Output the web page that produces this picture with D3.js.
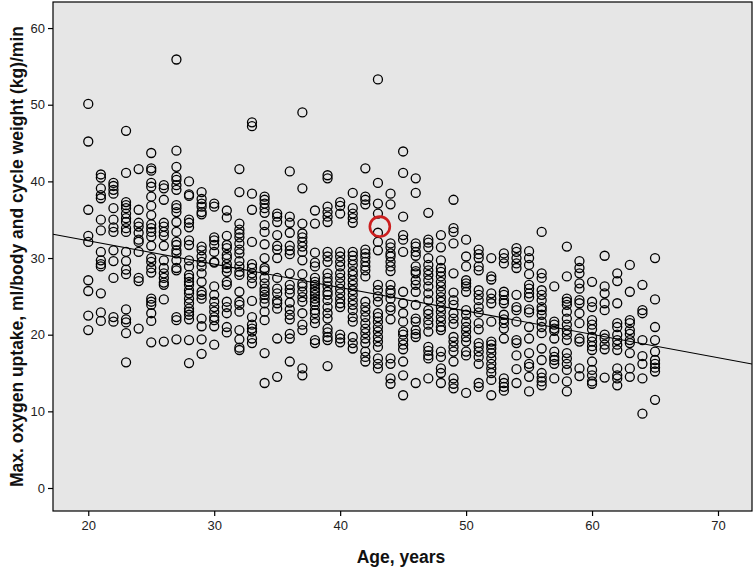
<!DOCTYPE html>
<html><head><meta charset="utf-8">
<script src="https://cdn.jsdelivr.net/npm/d3@7"></script>
<style>
html,body{margin:0;padding:0;background:#fff;}
svg{display:block;font-family:"Liberation Sans",Arial,sans-serif;}
</style></head>
<body><svg id="chart" width="753" height="570"></svg>
<script>
const ages = [20,21,22,23,24,25,26,27,28,29,30,31,32,33,34,35,36,37,38,39,40,41,42,43,44,45,46,47,48,49,50,51,52,53,54,55,56,57,58,59,60,61,62,63,64,65];
const values = [
 [50.1,45.2,36.3,32.9,32.1,27.1,25.7,22.5,20.6],
 [40.9,40.5,39.1,38.2,37.8,35.0,33.6,30.8,29.7,29.2,28.9,25.4,22.9,21.8],
 [39.8,39.4,38.9,38.4,36.5,35.0,34.0,33.4,31.0,29.6,27.4,22.3,21.7],
 [46.6,41.1,37.3,36.9,36.5,35.8,35.2,34.7,33.9,33.4,30.8,29.6,28.5,27.9,23.3,22.0,21.6,20.2,16.4],
 [41.6,36.3,34.6,34.1,33.3,32.4,32.1,30.8,27.4,27.0,20.8],
 [43.7,41.7,41.4,39.8,39.3,38.0,36.8,35.6,34.4,33.9,33.4,32.8,31.6,30.0,29.5,28.7,28.1,24.7,24.3,23.9,22.8,21.8,19.0],
 [39.5,39.1,37.6,34.6,34.1,33.4,32.9,31.6,29.7,28.7,28.0,27.4,26.8,26.5,24.6,19.1],
 [55.9,44.0,41.9,40.6,40.2,39.5,38.9,36.9,36.5,36.0,34.7,33.4,32.1,31.7,31.0,30.6,29.7,28.7,28.4,22.3,21.9,19.4],
 [40.0,38.3,38.1,35.0,34.6,34.0,32.3,31.7,29.7,28.9,27.8,27.4,26.9,26.5,25.8,25.4,24.7,24.1,23.4,23.0,22.6,22.0,19.3,16.3],
 [38.6,37.7,37.1,36.7,36.0,35.7,31.5,31.0,30.2,29.5,28.9,28.0,26.9,25.6,25.2,24.7,22.1,21.1,19.4,17.5],
 [37.1,36.7,32.7,32.3,31.7,30.8,29.5,29.4,26.3,25.2,24.3,23.6,23.0,22.3,21.9,21.1,18.7],
 [36.2,35.3,32.9,31.7,31.3,30.4,30.0,29.2,28.7,28.2,26.9,26.5,24.3,23.6,22.8,21.0,20.3],
 [41.6,38.6,34.5,33.7,33.2,32.7,31.9,31.1,30.6,29.6,28.9,28.2,27.8,25.6,24.3,23.9,23.0,20.6,19.4,18.3,18.0],
 [47.7,47.2,38.4,36.3,32.1,29.2,28.7,28.0,27.4,26.7,24.4,22.3,21.3,20.8,20.4,19.5,18.9],
 [38.0,37.6,37.1,36.5,35.9,34.3,33.4,31.8,30.0,28.7,28.4,27.4,26.7,26.0,25.6,25.2,24.7,24.1,23.0,21.9,17.6,13.7],
 [35.8,35.4,34.7,33.0,31.6,31.1,30.0,27.4,26.0,25.4,24.5,24.1,23.4,19.5,14.5],
 [41.3,35.4,34.6,33.3,31.6,31.0,30.5,28.0,26.5,25.9,25.4,24.2,23.3,22.6,22.0,20.1,19.5,16.5],
 [49.0,39.1,34.5,33.2,32.7,32.1,31.5,30.8,29.7,27.9,26.7,26.3,25.6,24.9,24.3,22.8,21.3,20.6,15.6,14.7],
 [36.2,34.5,30.7,29.4,28.9,27.4,26.9,26.5,26.0,25.6,25.2,24.7,24.3,23.9,23.2,22.8,22.1,21.5,19.3,18.9],
 [40.8,40.4,36.7,36.0,35.4,34.7,30.8,30.2,29.5,28.0,27.4,26.9,26.3,25.6,25.2,24.5,23.6,22.8,22.1,20.8,20.3,19.7,19.3,15.9],
 [37.3,36.8,35.8,30.8,30.2,29.5,28.9,28.0,27.4,26.7,26.0,25.4,24.7,24.1,23.6,20.0,19.5,19.0],
 [38.5,36.5,35.8,35.2,34.6,30.8,30.3,29.7,29.1,28.3,27.8,27.1,26.5,25.8,25.2,24.5,23.9,23.2,22.3,21.7,19.7,18.9,18.2],
 [41.7,38.0,37.6,37.0,31.1,30.6,30.1,29.5,28.9,28.4,27.6,24.3,23.6,23.0,22.3,21.5,20.8,20.2,19.5,18.9,17.8,17.1,16.5],
 [53.3,39.8,37.1,35.8,33.3,32.1,31.0,26.5,25.8,25.0,24.3,22.8,22.3,21.7,21.0,20.4,19.7,19.1,18.4,16.9,16.2,15.6],
 [38.4,37.0,31.9,31.4,30.6,30.2,29.5,28.9,28.3,26.5,25.8,25.4,24.7,23.6,23.2,22.0,16.9,16.2,14.3,13.6],
 [43.9,41.1,35.4,33.0,32.4,30.8,25.6,24.1,22.8,21.7,20.4,20.0,19.3,18.7,18.1,16.5,14.7,12.1],
 [40.4,38.5,31.9,31.5,30.8,30.3,28.9,28.3,28.0,27.1,26.5,25.6,23.9,22.1,21.7,20.6,20.1,19.7,13.7],
 [35.9,32.4,32.0,31.4,30.0,29.1,28.4,27.8,27.1,26.3,25.4,24.5,23.2,22.7,21.9,21.3,20.4,18.4,17.9,17.3,16.9,14.3],
 [33.0,31.4,29.7,28.7,28.2,27.6,26.9,26.3,25.6,24.9,24.3,23.6,23.0,22.3,21.7,21.0,20.6,17.8,17.1,15.6,15.0,13.7],
 [37.6,33.9,33.4,31.9,28.0,25.5,24.5,23.9,22.8,22.1,21.4,19.7,19.1,18.4,17.8,16.5,14.3,13.6,13.0],
 [32.4,30.2,28.9,27.1,26.7,26.3,25.6,23.2,22.6,21.7,21.0,20.4,19.7,19.1,17.8,17.3,12.4],
 [31.1,30.5,30.0,28.9,28.4,25.8,25.2,24.5,23.6,22.9,21.5,20.7,18.9,18.4,17.8,17.1,16.2,13.7,13.2],
 [30.0,27.6,27.2,25.4,24.7,24.1,21.7,19.1,18.7,18.2,17.6,16.9,16.2,15.6,15.0,14.1,12.1],
 [30.6,30.0,29.3,25.6,25.2,24.5,24.1,22.6,22.0,21.5,20.8,19.5,14.3,13.7,13.2,12.7],
 [31.3,30.8,30.0,29.3,28.7,25.2,23.6,23.2,21.7,19.3,18.9,17.3,15.5,13.7],
 [30.9,30.0,29.1,27.9,26.5,26.0,25.4,24.9,23.3,22.9,21.0,19.5,17.6,16.2,15.8,14.5,12.6],
 [33.4,28.0,27.4,25.8,25.2,24.5,23.6,23.2,22.6,21.7,21.0,20.2,18.2,16.7,15.0,14.4,13.9,13.4],
 [26.3,21.7,21.3,20.8,20.5,19.5,17.8,17.1,16.7,16.2,14.3],
 [31.5,27.6,24.7,24.3,23.9,23.0,22.1,21.3,20.6,20.0,19.3,17.6,16.9,16.2,15.4,13.9,12.6],
 [29.6,28.7,28.0,26.7,26.0,24.5,24.1,22.8,21.5,19.5,19.1,15.6,14.6],
 [26.9,24.3,23.6,21.9,21.3,20.7,19.7,19.1,18.5,18.0,16.5,15.4,14.7,13.9,13.6],
 [30.3,26.3,25.4,24.1,23.2,20.0,19.5,18.7,18.1,14.4],
 [28.0,27.0,24.1,21.5,21.0,20.0,19.3,18.7,18.0,15.6,14.7,14.3,13.4],
 [29.1,25.6,21.9,21.5,20.6,20.1,19.3,18.9,17.6,15.6,14.5],
 [26.5,23.2,22.8,19.3,17.2,16.2,14.3,9.7],
 [30.0,24.6,21.0,19.3,17.8,16.7,16.2,15.7,15.2,11.5]
];
const highlight = [43.15, 34.1];          // red-circled subject [age, value]
const fitLine = [38.35, -0.305];          // linear fit: intercept, slope
const xTicks = [20,30,40,50,60,70];
const yTicks = [0,10,20,30,40,50,60];
const xDomain = [17.2, 72.7];
const yDomain = [-3.0, 63.4];

const svg = d3.select("#chart");
const L = 53, R = 752, T = 2, B = 511;
const x = d3.scaleLinear().domain(xDomain).range([L, R]);
const y = d3.scaleLinear().domain(yDomain).range([B, T]);

svg.append("rect").attr("width",753).attr("height",570).attr("fill","#fff");
svg.append("rect").attr("x",L).attr("y",T).attr("width",R-L).attr("height",B-T)
  .attr("fill","#e6e6e6");

const pts = [];
ages.forEach((a,i)=>values[i].forEach(v=>pts.push([a,v])));

svg.append("clipPath").attr("id","clip").append("rect")
  .attr("x",L).attr("y",T).attr("width",R-L).attr("height",B-T);

const g = svg.append("g").attr("clip-path","url(#clip)");
g.selectAll("circle.pt").data(pts).join("circle").attr("class","pt")
  .attr("cx",d=>x(d[0])).attr("cy",d=>y(d[1])).attr("r",4.5)
  .attr("fill","none").attr("stroke","#000").attr("stroke-width",1.3);

g.append("line")
  .attr("x1",x(xDomain[0])).attr("y1",y(fitLine[0]+fitLine[1]*xDomain[0]))
  .attr("x2",x(xDomain[1])).attr("y2",y(fitLine[0]+fitLine[1]*xDomain[1]))
  .attr("stroke","#000").attr("stroke-width",1.1);

g.append("circle").attr("cx",x(highlight[0])).attr("cy",y(highlight[1])).attr("r",10)
  .attr("fill","none").attr("stroke","#cc1f1f").attr("stroke-width",2.6);

svg.append("rect").attr("x",L).attr("y",T).attr("width",R-L).attr("height",B-T)
  .attr("fill","none").attr("stroke","#000").attr("stroke-width",1.2);

const xa = svg.append("g").attr("transform",`translate(0,${B})`)
  .call(d3.axisBottom(x).tickValues(xTicks).tickSize(5).tickPadding(5).tickSizeOuter(0));
const ya = svg.append("g").attr("transform",`translate(${L},0)`)
  .call(d3.axisLeft(y).tickValues(yTicks).tickSize(5).tickPadding(3).tickSizeOuter(0));
[xa,ya].forEach(a=>{
  a.select(".domain").remove();
  a.selectAll(".tick line").attr("stroke","#000").attr("stroke-width",1.2);
  a.selectAll(".tick text").attr("fill","#222").style("font-size","13px")
    .style("font-family",'"Liberation Sans",Arial,sans-serif');
});

svg.append("text").attr("x",401).attr("y",563).attr("text-anchor","middle")
  .style("font-size","17.5px").style("font-weight","bold").attr("fill","#111")
  .text("Age, years");
svg.append("text").attr("transform",`translate(23,${(T+B)/2}) rotate(-90)`)
  .attr("text-anchor","middle")
  .style("font-size","17.5px").style("font-weight","bold").attr("fill","#111")
  .text("Max. oxygen uptake, ml/body and cycle weight (kg)/min");
</script></body></html>
